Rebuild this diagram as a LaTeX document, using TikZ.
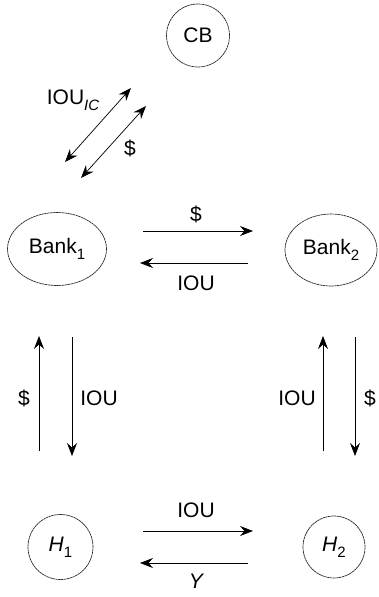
\documentclass[tikz,border=0pt]{standalone}
\usepackage{fontspec}
\setmainfont{Liberation Sans}
\usetikzlibrary{arrows.meta,shapes.geometric}
\newcommand{\lowsub}[1]{\raisebox{-6pt}{\fontsize{15pt}{15pt}\selectfont #1}}
\begin{document}
\begin{tikzpicture}[x=1pt,y=-1pt,
  agent/.style={draw=black!85,line width=0.7pt,dash pattern=on 2.4pt off 0.5pt,inner sep=0pt,font=\fontsize{21pt}{24pt}\selectfont},
  flow/.style={line width=0.7pt,-{Stealth[length=13pt,width=10pt,inset=4.5pt]}},
  flow2/.style={line width=0.7pt,{Stealth[length=13pt,width=10pt,inset=4.5pt]}-{Stealth[length=13pt,width=10pt,inset=4.5pt]}},
  lbl/.style={font=\fontsize{21pt}{24pt}\selectfont,inner sep=0pt}]
\useasboundingbox (0,0) rectangle (378,597);
% nodes
\node[agent,circle,minimum size=63pt] (cb) at (198,35.5) {CB};
\node[agent,ellipse,minimum width=99pt,minimum height=73pt] (b1) at (57,249) {Bank\lowsub{1}};
\node[agent,ellipse,minimum width=92pt,minimum height=72pt] (b2) at (331,250) {Bank\lowsub{2}};
\node[agent,circle,minimum size=65pt] (h1) at (60.5,547) {\itshape H\lowsub{\upshape 1}};
\node[agent,circle,minimum size=62pt] (h2) at (334,547) {\itshape H\lowsub{\upshape 2}};
% arrow endpoints
\coordinate (d1a) at (65,162); \coordinate (d1b) at (131,88);
\coordinate (d2a) at (81,178); \coordinate (d2b) at (146,106);
\coordinate (t1a) at (143,231); \coordinate (t1b) at (253,231);
\coordinate (t2a) at (248,263); \coordinate (t2b) at (140,263);
\coordinate (l1a) at (39,451); \coordinate (l1b) at (39,336);
\coordinate (l2a) at (72,337); \coordinate (l2b) at (72,456);
\coordinate (r1a) at (323,451); \coordinate (r1b) at (323,336);
\coordinate (r2a) at (355,337); \coordinate (r2b) at (355,456);
\coordinate (u1a) at (143,531); \coordinate (u1b) at (253,531);
\coordinate (u2a) at (248,563); \coordinate (u2b) at (140,563);
% arrows
\draw[flow2] (d1a) -- (d1b);
\draw[flow2] (d2a) -- (d2b);
\draw[flow] (t1a) -- (t1b);
\draw[flow] (t2a) -- (t2b);
\draw[flow] (l1a) -- (l1b);
\draw[flow] (l2a) -- (l2b);
\draw[flow] (r1a) -- (r1b);
\draw[flow] (r2a) -- (r2b);
\draw[flow] (u1a) -- (u1b);
\draw[flow] (u2a) -- (u2b);
% labels
\node[lbl] (ioic) at (73,100) {IOU\lowsub{\itshape IC}};
\node[lbl] (dd) at (130,148) {\$};
\node[lbl] (tl1) at (196,214) {\$};
\node[lbl] (tl2) at (196,283) {IOU};
\node[lbl] (ll1) at (24,398) {\$};
\node[lbl] (ll2) at (99,398) {IOU};
\node[lbl] (rl1) at (297,398) {IOU};
\node[lbl] (rl2) at (370,398) {\$};
\node[lbl] (ul1) at (196,510) {IOU};
\node[lbl] (ul2) at (196,581) {\itshape Y};
\end{tikzpicture}
\end{document}
